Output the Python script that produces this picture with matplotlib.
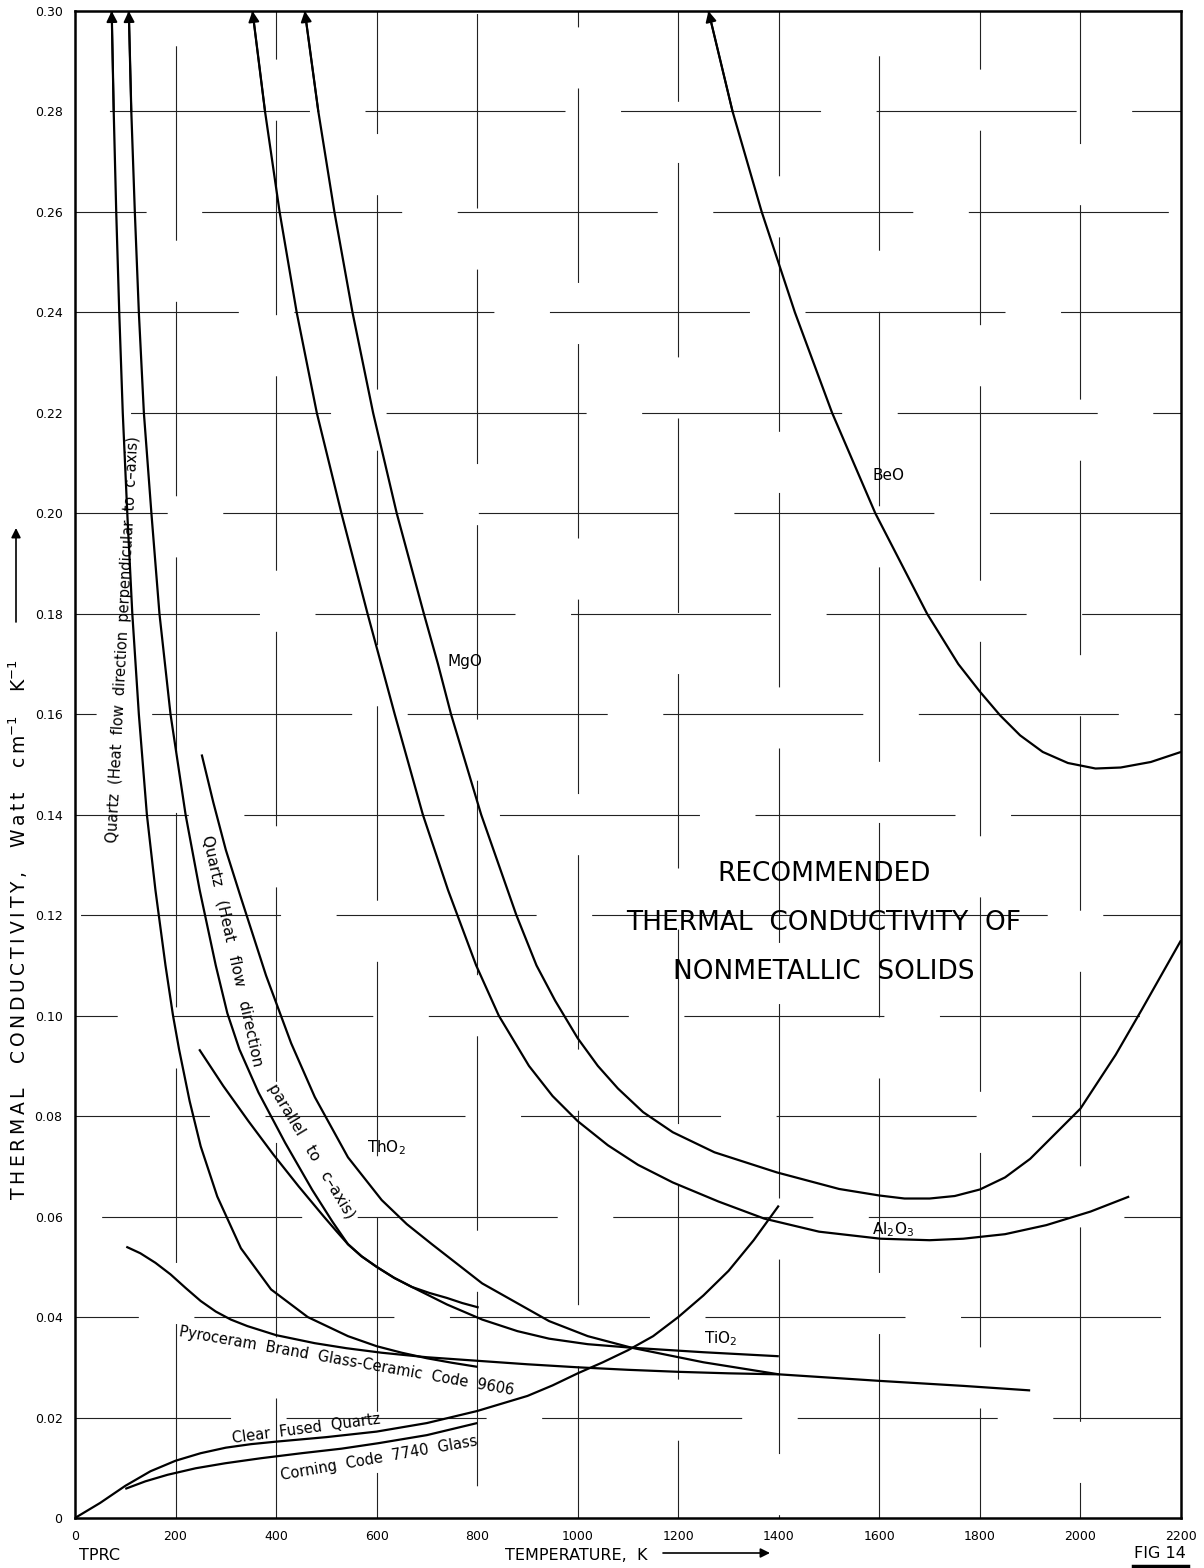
import matplotlib
matplotlib.use("Agg")
import matplotlib.pyplot as plt

plt.rcParams['font.family'] = ['DejaVu Sans']

# curves: temperature (K), conductivity (W cm-1 K-1)
quartz_perp_T = [73, 77, 82, 88, 95, 104, 114, 127, 143, 160, 180, 195, 207, 228, 250, 283, 330, 390, 463, 543,
                 600, 650, 700, 750, 800]
quartz_perp_k = [0.300, 0.280, 0.260, 0.240, 0.220, 0.200, 0.180, 0.160, 0.140, 0.125, 0.110, 0.100, 0.0933, 0.0830,
                 0.0740, 0.0640, 0.0537, 0.0455, 0.0400, 0.0362, 0.0342, 0.0329, 0.0318, 0.0309, 0.0301]

quartz_par_T = [107, 112, 119, 127, 137, 152, 168, 190, 220, 248, 280, 303, 327, 365, 418, 472, 512, 543, 570, 600,
                635, 670, 705, 740, 770, 803]
quartz_par_k = [0.300, 0.280, 0.260, 0.240, 0.220, 0.200, 0.180, 0.160, 0.140, 0.125, 0.110, 0.1005, 0.0933, 0.0847,
                0.0747, 0.0653, 0.0590, 0.0545, 0.0521, 0.0500, 0.0478, 0.0460, 0.0448, 0.0438, 0.0428, 0.0419]

tio2_T = [247, 295, 345, 395, 445, 495, 520, 543, 570, 600, 635, 670, 740, 810, 880, 943, 1020, 1107, 1250, 1400]
tio2_k = [0.0933, 0.0860, 0.0790, 0.0723, 0.0660, 0.0600, 0.0571, 0.0545, 0.0521, 0.0500, 0.0478, 0.0460, 0.0425,
          0.0395, 0.0372, 0.0357, 0.0346, 0.0339, 0.0330, 0.0322]

tho2_T = [252, 275, 300, 330, 380, 430, 477, 543, 610, 660, 710, 810, 943, 1020, 1107, 1250, 1400, 1600, 1767, 1900]
tho2_k = [0.152, 0.1425, 0.1330, 0.1235, 0.1080, 0.0945, 0.0838, 0.0718, 0.0633, 0.0585, 0.0545, 0.0467, 0.0392,
          0.0362, 0.0339, 0.0310, 0.0286, 0.0273, 0.0263, 0.0254]

pyro_T = [102, 130, 160, 190, 220, 250, 280, 310, 343, 400, 477, 540, 610, 700, 800, 900, 1000, 1100, 1200, 1300, 1400]
pyro_k = [0.0540, 0.0527, 0.0508, 0.0485, 0.0458, 0.0432, 0.0411, 0.0395, 0.0382, 0.0364, 0.0348, 0.0338, 0.0329,
          0.0320, 0.0313, 0.0306, 0.0300, 0.0295, 0.0291, 0.0288, 0.0286]

fused_T = [0, 50, 100, 150, 200, 250, 300, 350, 400, 500, 600, 700, 800, 900, 950, 1000, 1050, 1100, 1150, 1200,
           1250, 1300, 1350, 1400]
fused_k = [0.0, 0.0030, 0.0064, 0.0093, 0.0114, 0.0129, 0.0140, 0.0147, 0.0152, 0.0161, 0.0172, 0.0189, 0.0213,
           0.0243, 0.0264, 0.0288, 0.0310, 0.0334, 0.0362, 0.0400, 0.0443, 0.0492, 0.0553, 0.0622]

corning_T = [100, 140, 184, 240, 299, 370, 451, 530, 604, 700, 800]
corning_k = [0.0058, 0.0073, 0.0086, 0.0099, 0.0109, 0.0119, 0.0129, 0.0138, 0.0149, 0.0165, 0.0189]

al2o3_T = [353, 378, 407, 441, 481, 530, 582, 636, 692, 742, 798, 843, 903, 950, 1000, 1060, 1120, 1189, 1280, 1371,
           1480, 1602, 1700, 1767, 1850, 1932, 2020, 2097]
al2o3_k = [0.300, 0.280, 0.260, 0.240, 0.220, 0.200, 0.180, 0.160, 0.140, 0.125, 0.110, 0.100, 0.0900, 0.0840,
           0.0790, 0.0742, 0.0703, 0.0668, 0.0630, 0.0596, 0.0570, 0.0556, 0.0553, 0.0556, 0.0565, 0.0583, 0.0610,
           0.0640]

mgo_T = [457, 484, 516, 552, 593, 640, 694, 722, 748, 808, 878, 918, 955, 1000, 1040, 1080, 1130, 1189, 1272, 1396,
         1520, 1600, 1650, 1700, 1750, 1800, 1850, 1900, 1950, 2000, 2070, 2122, 2200]
mgo_k = [0.300, 0.280, 0.260, 0.240, 0.220, 0.200, 0.180, 0.170, 0.160, 0.140, 0.120, 0.110, 0.1030, 0.0955, 0.0900,
         0.0855, 0.0808, 0.0768, 0.0728, 0.0688, 0.0655, 0.0642, 0.0636, 0.0636, 0.0641, 0.0654, 0.0678, 0.0715,
         0.0765, 0.0815, 0.0922, 0.1012, 0.1150]

beo_T = [1260, 1308, 1366, 1432, 1506, 1592, 1695, 1757, 1800, 1840, 1880, 1925, 1975, 2030, 2080, 2140, 2200]
beo_k = [0.300, 0.280, 0.260, 0.240, 0.220, 0.200, 0.180, 0.170, 0.1645, 0.1598, 0.1558, 0.1525, 0.1503, 0.1492,
         0.1494, 0.1505, 0.1525]

x_ticks = list(range(0, 2201, 200))
y_ticks = [i * 0.02 for i in range(16)]
y_tick_labels = ['0'] + ['%.2f' % v for v in y_ticks[1:]]

W, H = 1204, 1568
fig = plt.figure(figsize=(W / 100, H / 100), dpi=100)
ax = fig.add_axes([75 / W, 50 / H, 1106 / W, 1507 / H])

# broken drafting grid
for i, t in enumerate(x_ticks[1:-1]):
    ax.axvline(t, color='#222222', lw=0.8, zorder=1,
               linestyle=((i * 67) % 230, (175, 55)))
for i, v in enumerate(y_ticks[1:-1]):
    ax.axhline(v, color='#222222', lw=0.8, zorder=1,
               linestyle=((i * 83 + 40) % 230, (180, 50)))

curves = [
    (quartz_perp_T, quartz_perp_k, True),
    (quartz_par_T, quartz_par_k, True),
    (tio2_T, tio2_k, False),
    (tho2_T, tho2_k, False),
    (pyro_T, pyro_k, False),
    (fused_T, fused_k, False),
    (corning_T, corning_k, False),
    (al2o3_T, al2o3_k, True),
    (mgo_T, mgo_k, True),
    (beo_T, beo_k, True),
]
for T, k, arrow in curves:
    ax.plot(T, k, color='black', lw=1.6, solid_capstyle='butt', solid_joinstyle='round', zorder=3)
    if arrow:
        ax.annotate('', xy=(T[0], k[0]), xytext=(T[1], k[1]),
                    arrowprops=dict(arrowstyle='-|>', color='black', lw=1.4,
                                    mutation_scale=16, shrinkA=0, shrinkB=0),
                    zorder=4)

ax.set_xlim(0, 2200)
ax.set_ylim(0, 0.30)
ax.set_xticks(x_ticks)
ax.set_xticklabels([str(t) for t in x_ticks], fontsize=9)
ax.set_yticks(y_ticks)
ax.set_yticklabels(y_tick_labels, fontsize=9)
ax.tick_params(length=0)
ax.tick_params(axis='x', pad=9)
ax.tick_params(axis='y', pad=9)
for s in ax.spines.values():
    s.set_linewidth(1.8)

# curve labels
lab = dict(fontsize=11, ha='center', va='center', zorder=5)
ax.text(1618, 0.2076, 'BeO', **lab)
ax.text(776, 0.1706, 'MgO', **lab)
ax.text(620, 0.0737, 'ThO$_2$', **lab)
ax.text(1627, 0.0575, 'Al$_2$O$_3$', **lab)
ax.text(1284, 0.0358, 'TiO$_2$', **lab)

small = dict(fontsize=10.5, ha='center', va='center', rotation_mode='anchor')
ax.text(96, 0.1748, 'Quartz  (Heat  flow  direction  perpendicular  to  c\u2013axis)', rotation=87, **small)
ax.text(314, 0.1129, 'Quartz   (Heat   flow   direction', rotation=-77.5,
        fontsize=11, ha='center', va='center', rotation_mode='anchor')
ax.text(470, 0.0729, 'parallel   to   c\u2013axis)', rotation=-59,
        fontsize=11, ha='center', va='center', rotation_mode='anchor')
ax.text(540, 0.0313, 'Pyroceram  Brand  Glass-Ceramic  Code  9606', rotation=-10, **small)
ax.text(459, 0.0177, 'Clear  Fused  Quartz', rotation=7.5, **small)
ax.text(604, 0.0119, 'Corning  Code  7740  Glass', rotation=10, **small)

# title block
for txt, k in [('RECOMMENDED', 0.1282), ('THERMAL  CONDUCTIVITY  OF', 0.1185), ('NONMETALLIC  SOLIDS', 0.1087)]:
    ax.text(1490, k, txt, fontsize=19, ha='center', va='center', zorder=5)


def spaced(word):
    return '\u2009'.join(word)


ylab = '    '.join(spaced(w) for w in ['THERMAL', 'CONDUCTIVITY,', 'Watt']) + \
    '    c\u2009m$^{-1}$    K$^{-1}$'
fig.text(18 / W, 1 - 930 / H, ylab, rotation=90, fontsize=13.5, ha='center', va='center')
fig.text(576 / W, 1 - 1556 / H, 'TEMPERATURE,  K', fontsize=11.5, ha='center', va='center')
fig.text(79 / W, 1 - 1556 / H, 'TPRC', fontsize=11.5, ha='left', va='center')
fig.text(1160 / W, 1 - 1554 / H, 'FIG 14', fontsize=11.5, ha='center', va='center')
fig.add_artist(plt.Line2D([1133 / W, 1188 / W], [1 - 1566 / H, 1 - 1566 / H], color='black', lw=2.5))

ax.annotate('', xy=(770, H - 1553), xytext=(663, H - 1553), xycoords='figure pixels',
            arrowprops=dict(arrowstyle='-|>', color='black', lw=1.2, mutation_scale=14, shrinkA=0, shrinkB=0),
            annotation_clip=False)
ax.annotate('', xy=(16, H - 528), xytext=(16, H - 622), xycoords='figure pixels',
            arrowprops=dict(arrowstyle='-|>', color='black', lw=1.2, mutation_scale=14, shrinkA=0, shrinkB=0),
            annotation_clip=False)

fig.savefig('out.png', dpi=100)
